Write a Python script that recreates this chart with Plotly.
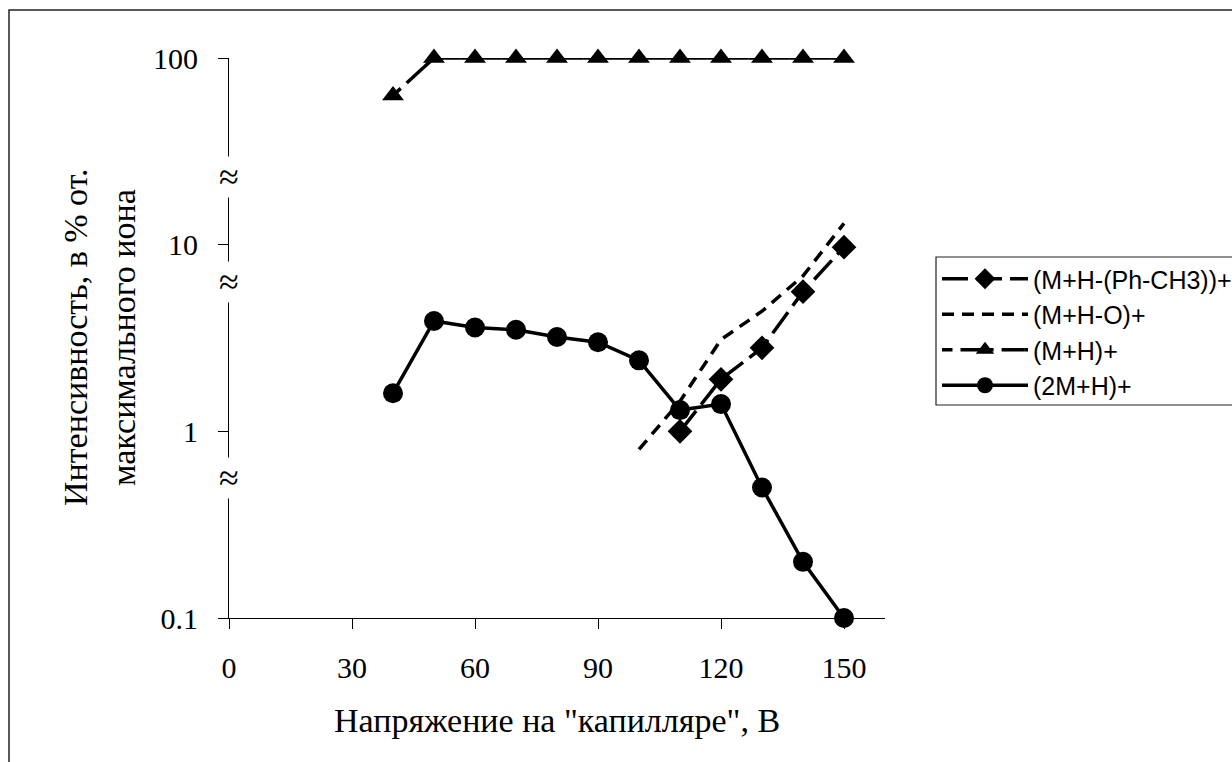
import plotly.graph_objects as go

# Capillary voltage, V
voltage = [40, 50, 60, 70, 80, 90, 100, 110, 120, 130, 140, 150]

# Relative intensities, % of the most abundant ion
x_loss_phch3 = [110, 120, 130, 140, 150]
y_loss_phch3 = [1.0, 1.9, 2.8, 5.6, 9.7]

x_loss_o = [100, 110, 120, 130, 140, 150]
y_loss_o = [0.8, 1.45, 3.1, 4.4, 6.8, 13.0]

x_mh = voltage
y_mh = [63, 100, 100, 100, 100, 100, 100, 100, 100, 100, 100, 100]

x_2mh = voltage
y_2mh = [1.6, 3.9, 3.6, 3.5, 3.2, 3.0, 2.4, 1.3, 1.4, 0.5, 0.2, 0.1]

names = ["(M+H-(Ph-CH3))+", "(M+H-O)+", "(M+H)+", "(2M+H)+"]

x_ticks = [0, 30, 60, 90, 120, 150]
y_ticks = [0.1, 1, 10, 100]
y_tick_text = ["0.1", "1", "10", "100"]

x_title = "Напряжение на \"капилляре\", В"
y_title_lines = ["Интенсивность, в % от.", "максимального иона"]

SERIF = "Liberation Serif"
SANS = "Liberation Sans"
LW = 3.5

fig = go.Figure()
fig.add_trace(go.Scatter(
    x=x_loss_phch3, y=y_loss_phch3, name=names[0], mode="lines+markers",
    line=dict(color="black", width=LW, dash="26px,8px"),
    marker=dict(symbol="diamond", size=19, color="black"),
))
fig.add_trace(go.Scatter(
    x=x_loss_o, y=y_loss_o, name=names[1], mode="lines",
    line=dict(color="black", width=LW, dash="12px,8px"),
))
fig.add_trace(go.Scatter(
    x=x_mh, y=y_mh, name=names[2], mode="lines+markers", cliponaxis=False,
    line=dict(color="black", width=LW, dash="10.5px,8px,22.5px,0.1px"),
    marker=dict(symbol="triangle-up", size=19, color="black"),
))
fig.add_trace(go.Scatter(
    x=x_2mh, y=y_2mh, name=names[3], mode="lines+markers", cliponaxis=False,
    line=dict(color="black", width=LW),
    marker=dict(symbol="circle", size=20, color="black"),
))

L, R, T, B = 229, 885, 58, 618
W, H = 1232, 762
pw, ph = R - L, B - T


def px(xp):
    return (xp - L) / pw


def py(yp):
    return (B - yp) / ph


def label(text, xp, yp, size, angle=0, **extra):
    return dict(text=text, x=px(xp), y=py(yp), xref="paper", yref="paper",
                xanchor="center", yanchor="middle", showarrow=False,
                textangle=angle, font=dict(family=SERIF, size=size, color="black"),
                **extra)


annotations = [
    label(x_title, 557, 720, 34),
    label(y_title_lines[0], 75, 338, 34, angle=-90),
    label(y_title_lines[1], 123, 338, 34, angle=-90),
]
# break marks on the value axis
for yb in (177, 282, 478):
    annotations.append(label("≈", L, yb, 36, bgcolor="white", borderpad=0))

fig.update_layout(
    width=W, height=H,
    margin=dict(l=L, r=W - R, t=T, b=H - B, autoexpand=False),
    paper_bgcolor="white", plot_bgcolor="white",
    showlegend=True,
    legend=dict(x=px(937), y=py(256), xanchor="left", yanchor="top",
                borderwidth=0, bgcolor="rgba(0,0,0,0)",
                font=dict(family=SANS, size=25, color="black"),
                itemwidth=86, tracegroupgap=0),
    annotations=annotations,
    shapes=[
        dict(type="rect", xref="paper", yref="paper",
             x0=px(9), x1=px(1260), y0=py(790), y1=py(10),
             line=dict(color="#222", width=1.5), layer="below"),
        dict(type="rect", xref="paper", yref="paper",
             x0=px(936), x1=px(1260), y0=py(405), y1=py(257),
             line=dict(color="#222", width=1.2), fillcolor="white", layer="below"),
    ],
)
fig.update_xaxes(range=[0, 160], tickvals=x_ticks, showgrid=False, zeroline=False,
                 showline=True, linecolor="black", linewidth=1,
                 ticks="outside", ticklen=10, tickcolor="black", ticklabelstandoff=13,
                 tickfont=dict(family=SERIF, size=30, color="black"))
fig.update_yaxes(type="log", range=[-1, 2], tickvals=y_ticks, ticktext=y_tick_text,
                 showgrid=False, zeroline=False,
                 showline=True, linecolor="black", linewidth=1,
                 ticks="outside", ticklen=10, tickcolor="black", ticklabelstandoff=14,
                 tickfont=dict(family=SERIF, size=30, color="black"))

fig.write_html("out.html")
